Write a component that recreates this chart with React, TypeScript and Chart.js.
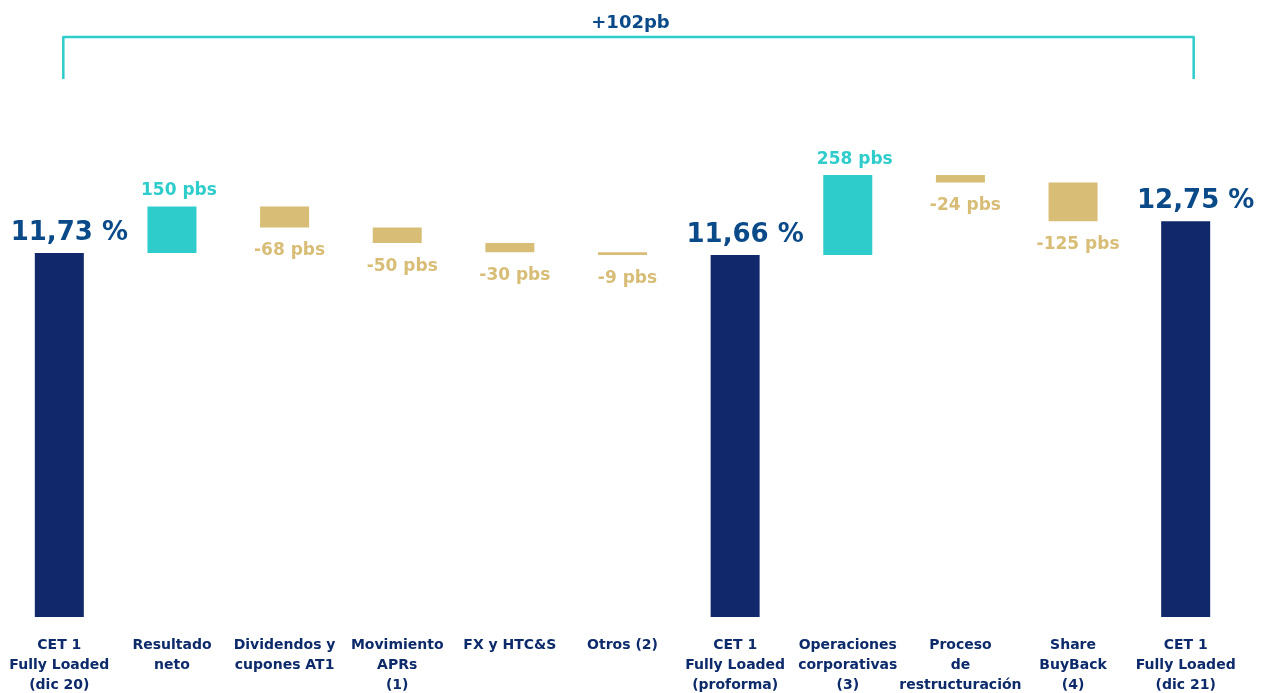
import React, { useEffect, useRef } from "react";
import { Chart, registerables } from "chart.js";

Chart.register(...registerables);

// ---- Data ----
const categories: string[][] = [
  ["CET 1", "Fully Loaded", "(dic 20)"],
  ["Resultado", "neto"],
  ["Dividendos y", "cupones AT1"],
  ["Movimiento", "APRs", "(1)"],
  ["FX y HTC&S"],
  ["Otros (2)"],
  ["CET 1", "Fully Loaded", "(proforma)"],
  ["Operaciones", "corporativas", "(3)"],
  ["Proceso", "de", "restructuración"],
  ["Share", "BuyBack", "(4)"],
  ["CET 1", "Fully Loaded", "(dic 21)"],
];
// "total" values are in %, "delta" values are in basis points
const kinds: string[] = ["total", "delta", "delta", "delta", "delta", "delta", "total", "delta", "delta", "delta", "total"];
const values: number[] = [11.73, 150, -68, -50, -30, -9, 11.66, 258, -24, -125, 12.75];
const bracketLabel = "+102pb";

// ---- Styles ----
const NAVY_BAR = "#11286a";
const LABEL_BLUE = "#0a4a88";
const TEAL = "#2ecdcc";
const GOLD = "#d8bd76";
const CAT_COLOR = "#0d2a6a";
const FONT = "'DejaVu Sans', Verdana, sans-serif";

function buildRanges(): [number, number][] {
  const out: [number, number][] = [];
  let run = 0;
  kinds.forEach((k, i) => {
    if (k === "total") {
      run = values[i];
      out.push([0, values[i]]);
    } else {
      const next = run + values[i] / 100;
      out.push([run, next]);
      run = next;
    }
  });
  return out;
}

function colorFor(i: number): string {
  if (kinds[i] === "total") return NAVY_BAR;
  return values[i] >= 0 ? TEAL : GOLD;
}

const labelsPlugin = {
  id: "wfLabels",
  afterDatasetsDraw(chart: any) {
    const ctx = chart.ctx as CanvasRenderingContext2D;
    const meta = chart.getDatasetMeta(0);
    ctx.save();
    ctx.textAlign = "center";
    ctx.textBaseline = "alphabetic";
    meta.data.forEach((bar: any, i: number) => {
      const p = bar.getProps(["x", "y", "base"], true);
      const top = Math.min(p.y, p.base);
      const bottom = Math.max(p.y, p.base);
      if (kinds[i] === "total") {
        ctx.font = `bold 26px ${FONT}`;
        ctx.fillStyle = LABEL_BLUE;
        ctx.fillText(`${values[i].toFixed(2).replace(".", ",")} %`, p.x + 10, top - 13);
      } else if (values[i] >= 0) {
        ctx.font = `bold 17px ${FONT}`;
        ctx.fillStyle = TEAL;
        ctx.fillText(`${values[i]} pbs`, p.x + 7, top - 11);
      } else {
        ctx.font = `bold 17px ${FONT}`;
        ctx.fillStyle = GOLD;
        ctx.fillText(`${values[i]} pbs`, p.x + 5, bottom + 28);
      }
    });

    // bracket from first to last total
    const xs = chart.scales.x;
    const left = xs.getPixelForValue(0) + 4;
    const right = xs.getPixelForValue(categories.length - 1) + 8;
    const yTop = 37;
    const yBot = 79;
    ctx.strokeStyle = TEAL;
    ctx.lineWidth = 2.5;
    ctx.lineJoin = "round";
    ctx.beginPath();
    ctx.moveTo(left, yBot);
    ctx.lineTo(left, yTop);
    ctx.lineTo(right, yTop);
    ctx.lineTo(right, yBot);
    ctx.stroke();
    ctx.font = `bold 18px ${FONT}`;
    ctx.fillStyle = LABEL_BLUE;
    ctx.fillText(bracketLabel, (left + right) / 2 + 2, 28);
    ctx.restore();
  },
};

export default function App() {
  const ref = useRef<HTMLCanvasElement | null>(null);

  useEffect(() => {
    if (!ref.current) return;
    const ranges = buildRanges();
    const chart = new Chart(ref.current, {
      type: "bar",
      data: {
        labels: categories,
        datasets: [
          {
            data: ranges as any,
            backgroundColor: values.map((_, i) => colorFor(i)),
            borderWidth: 0,
            barPercentage: 0.435,
            categoryPercentage: 1,
          },
        ],
      },
      options: {
        responsive: false,
        animation: false,
        devicePixelRatio: 1,
        layout: { padding: { left: 3, right: 22, top: 0, bottom: 0 } },
        plugins: {
          legend: { display: false },
          tooltip: { enabled: false },
        },
        scales: {
          y: { display: false, min: 0, max: 19.88 },
          x: {
            grid: { display: false, drawTicks: false },
            border: { display: false },
            afterFit: (scale: any) => {
              scale.paddingLeft = 0;
              scale.paddingRight = 0;
            },
            ticks: {
              padding: 18,
              color: CAT_COLOR,
              maxRotation: 0,
              autoSkip: false,
              font: { family: FONT, weight: "bold", size: 14, lineHeight: "20px" },
            },
          },
        },
      },
      plugins: [labelsPlugin],
    });
    return () => chart.destroy();
  }, []);

  return (
    <div
      style={{
        position: "fixed",
        left: 0,
        top: 0,
        width: 1264,
        height: 693,
        overflow: "hidden",
        background: "#fff",
      }}
    >
      <canvas ref={ref} width={1264} height={713} style={{ display: "block", width: 1264, height: 713 }} />
    </div>
  );
}
